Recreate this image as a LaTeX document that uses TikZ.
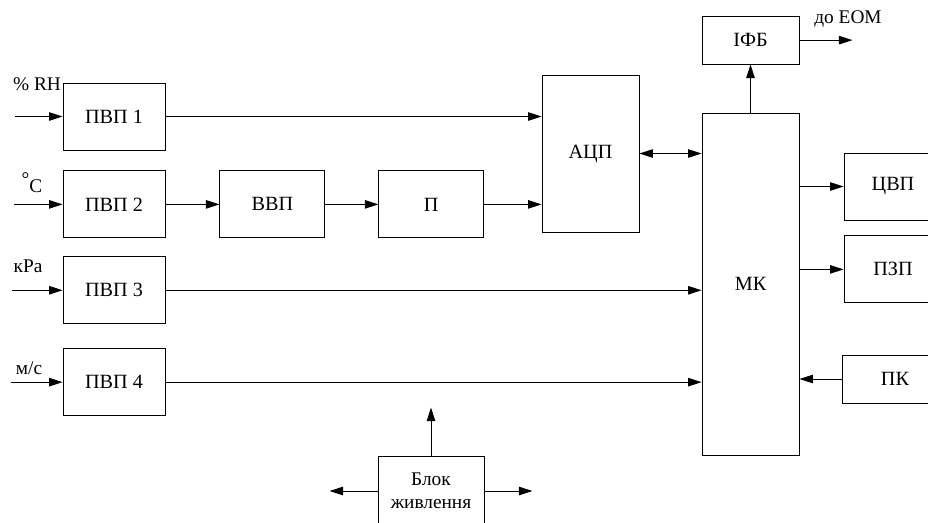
\documentclass[tikz,border=0pt]{standalone}
\usepackage{fontspec}
\setmainfont{Liberation Serif}
\usetikzlibrary{positioning,arrows.meta}

\begin{document}
\begin{tikzpicture}[
blk/.style={draw, line width=0.5pt, minimum width=2.04cm, minimum height=1.34cm, inner sep=0pt, font=\fontsize{11.5}{14}\selectfont},
lbl/.style={inner sep=0pt, font=\fontsize{11}{13}\selectfont},
sig/.style={-{Triangle[length=0.27cm,width=0.17cm]}, line width=0.5pt}]
\clip (0,0) rectangle (18.56,-10.44);
% sensors
\node[blk](p1) at (2.28,-2.33) {ПВП 1};
\node[blk, below=0.4cm of p1](p2) {ПВП 2};
\node[blk, below=0.36cm of p2](p3) {ПВП 3};
\node[blk, below=0.48cm of p3](p4) {ПВП 4};
\node[blk, right=1.08cm of p2, minimum width=2.1cm](vvp) {ВВП};
\node[blk, right=1.06cm of vvp, minimum width=2.1cm](pp) {П};
\node[blk, minimum width=1.94cm, minimum height=3.14cm](adc) at (11.81,-3.07) {АЦП};
\node[blk, minimum width=1.94cm, minimum height=6.84cm](mk) at (15.01,-5.68) {МК};
\node[blk, above=0.96cm of mk, minimum width=1.94cm, minimum height=0.96cm](ifb) {ІФБ};
\node[blk, minimum width=1.96cm](cvp) at (17.86,-3.73) {ЦВП};
\node[blk, below=0.3cm of cvp, minimum width=1.96cm](pzp) {ПЗП};
\node[blk, minimum width=2.12cm, minimum height=0.96cm](pk) at (17.9,-7.58) {ПК};
\node[blk, minimum width=2.12cm, minimum height=1.4cm, align=center, font=\fontsize{11}{13}\selectfont](bz) at (8.62,-9.82) {Блок\\живлення};
% free ends
\coordinate[left=0.96cm of p1](in1);
\coordinate[left=0.98cm of p2](in2);
\coordinate[left=1.02cm of p3](in3);
\coordinate[left=1.04cm of p4](in4);
\coordinate[right=1.06cm of ifb](eom);
\coordinate[above=0.96cm of bz](bzu);
\coordinate[left=0.96cm of bz](bzl);
\coordinate[right=0.96cm of bz](bzr);
% labels
\node[lbl](lrh) at (0.74,-1.68) {\% RH};
\node[lbl](ldeg) at (0.64,-3.66) {\raisebox{0.8ex}{°}C};
\node[lbl](lkpa) at (0.56,-5.32) {кРа};
\node[lbl](lms) at (0.58,-7.36) {м/с};
\node[lbl](leom) at (16.96,-0.38) {до ЕОМ};
% signals
\draw[sig](in1)--(p1);
\draw[sig](in2)--(p2);
\draw[sig](in3)--(p3);
\draw[sig](in4)--(p4);
\draw[sig](p2)--(vvp);
\draw[sig](vvp)--(pp);
\draw[sig](pp.east)--(pp.east -| adc.west);
\draw[sig](p1.east)--(p1.east -| adc.west);
\draw[sig](p3.east)--(p3.east -| mk.west);
\draw[sig](p4.east)--(p4.east -| mk.west);
\draw[sig, {Triangle[length=0.27cm,width=0.17cm]}-{Triangle[length=0.27cm,width=0.17cm]}](adc.east)--(adc.east -| mk.west);
\draw[sig](mk)--(ifb);
\draw[sig](ifb)--(eom);
\draw[sig](cvp.west -| mk.east)--(cvp.west);
\draw[sig](pzp.west -| mk.east)--(pzp.west);
\draw[sig](pk.west)--(pk.west -| mk.east);
\draw[sig](bz)--(bzu);
\draw[sig](bz)--(bzl);
\draw[sig](bz)--(bzr);
\end{tikzpicture}
\end{document}
